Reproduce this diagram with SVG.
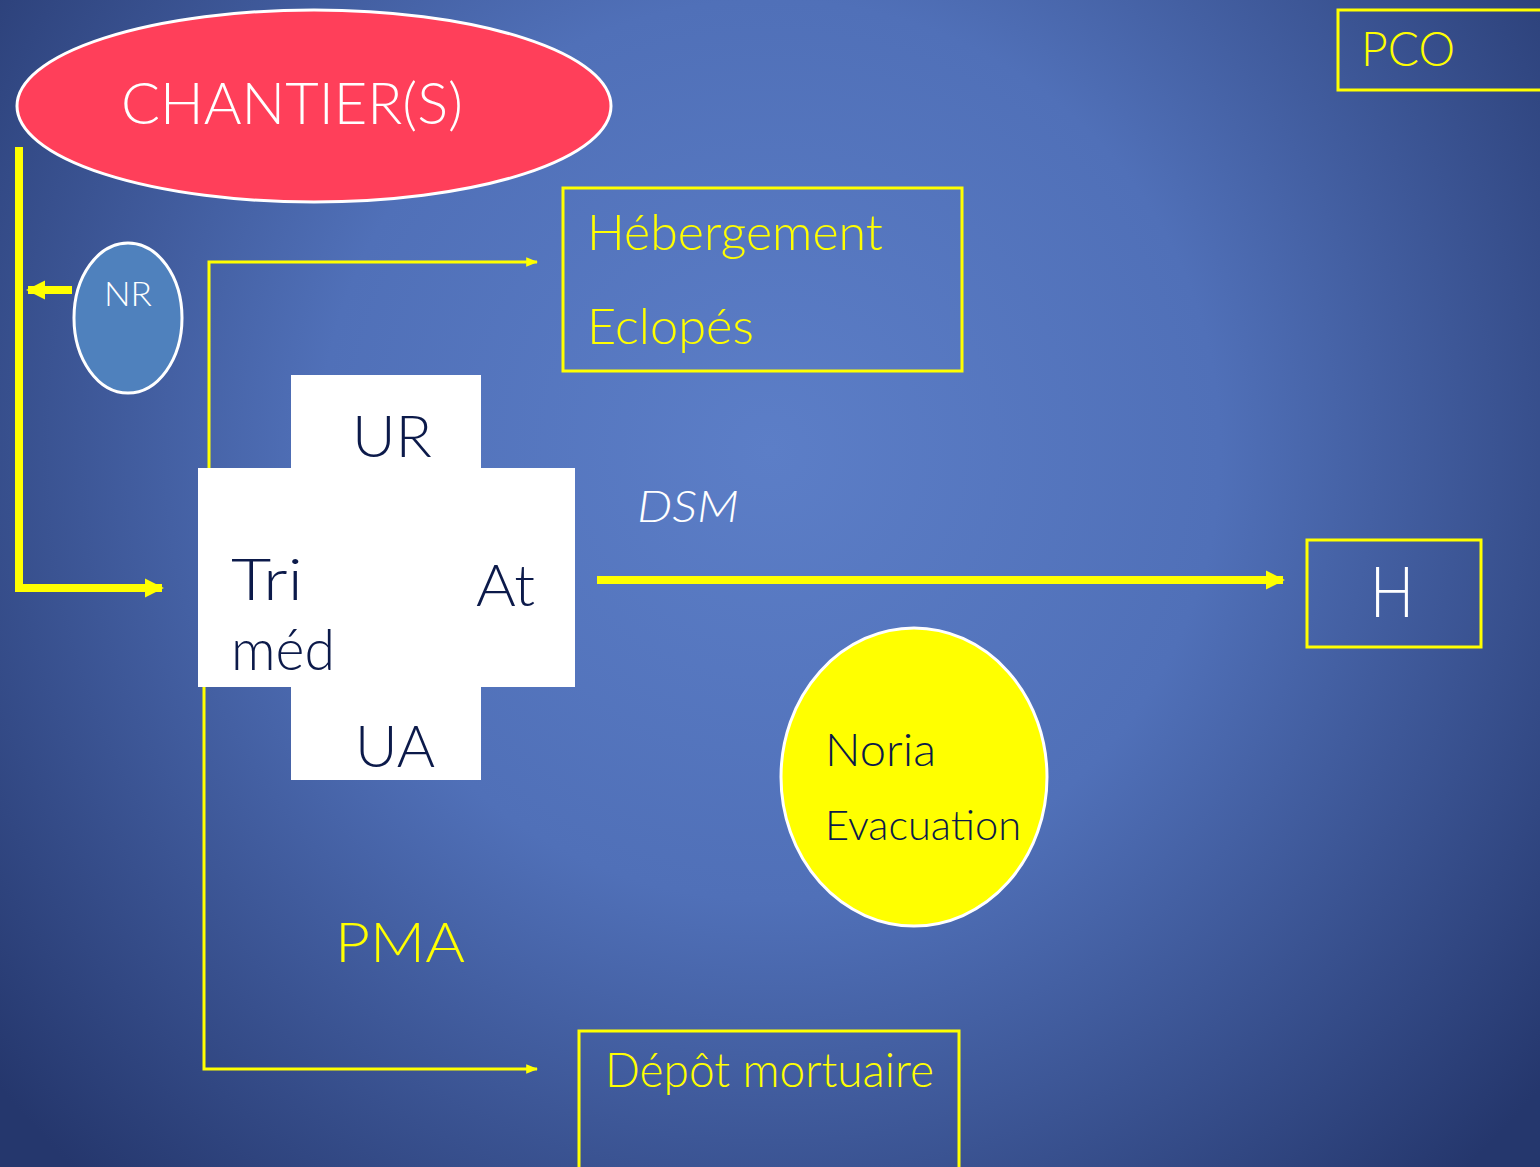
<svg xmlns="http://www.w3.org/2000/svg" width="1540" height="1167" viewBox="0 0 1540 1167">
<defs>
<radialGradient id="bg" gradientUnits="userSpaceOnUse" cx="770" cy="450" r="1000">
<stop offset="0" stop-color="#5c7ec7"/>
<stop offset="0.45" stop-color="#5070b8"/>
<stop offset="1" stop-color="#25376d"/>
</radialGradient>
<marker id="thick" viewBox="0 0 10 10" refX="9" refY="5" markerWidth="2.4" markerHeight="2.4" orient="auto" markerUnits="strokeWidth">
<path d="M0,0 L10,5 L0,10 z" fill="#ffff00"/>
</marker>
<marker id="thin" viewBox="0 0 10 10" refX="9" refY="5" markerWidth="4" markerHeight="4" orient="auto" markerUnits="strokeWidth">
<path d="M0,1 L10,5 L0,9 z" fill="#ffff00"/>
</marker>
</defs>
<style>
text{font-family:"Lato","Open Sans","Liberation Sans",sans-serif;font-weight:300}
.y{fill:#ffff00}
.w{fill:#ffffff}
.d{fill:#0c1a4a}
.box{fill:none;stroke:#ffff00;stroke-width:3}
.tk{fill:none;stroke:#ffff00;stroke-width:8}
.tn{fill:none;stroke:#ffff00;stroke-width:3}
</style>
<rect x="0" y="0" width="1540" height="1167" fill="url(#bg)"/>

<g id="connectors">
<path class="tk" d="M19,147 V592"/>
<path class="tk" d="M19,588 H162" marker-end="url(#thick)"/>
<path class="tk" d="M72,290 H28" marker-end="url(#thick)"/>
<path class="tn" d="M209,468 V262 H537" marker-end="url(#thin)"/>
<path class="tn" d="M204,687 V1069 H537" marker-end="url(#thin)"/>
<path class="tk" d="M597,580 H1283" marker-end="url(#thick)"/>
</g>

<g id="chantier">
<ellipse cx="314" cy="106" rx="297" ry="96" fill="#ff3f5a" stroke="#ffffff" stroke-width="3"/>
<text x="121" y="124" class="w" font-size="57" textLength="342" lengthAdjust="spacingAndGlyphs">CHANTIER(S)</text>
</g>

<g id="nr">
<ellipse cx="128" cy="318" rx="54" ry="75" fill="#4f81bd" stroke="#ffffff" stroke-width="3"/>
<text x="104" y="306" class="w" font-size="34" textLength="48" lengthAdjust="spacingAndGlyphs">NR</text>
</g>

<g id="pco">
<rect x="1338" y="10" width="210" height="80" class="box"/>
<text x="1361" y="66" class="y" font-size="48" textLength="94" lengthAdjust="spacingAndGlyphs">PCO</text>
</g>

<g id="hebergement">
<rect x="563" y="188" width="399" height="183" class="box"/>
<text x="587" y="250" class="y" font-size="50" textLength="296" lengthAdjust="spacingAndGlyphs">Hébergement</text>
<text x="587" y="344" class="y" font-size="50" textLength="167" lengthAdjust="spacingAndGlyphs">Eclopés</text>
</g>

<g id="pma-cross">
<path d="M291,375 H481 V468 H575 V687 H481 V780 H291 V687 H198 V468 H291 Z" fill="#ffffff"/>
<text x="352" y="457" class="d" font-size="58" textLength="80" lengthAdjust="spacingAndGlyphs">UR</text>
<text x="231" y="600" class="d" font-size="58" textLength="72" lengthAdjust="spacingAndGlyphs">Tri</text>
<text x="231" y="670" class="d" font-size="58" textLength="104" lengthAdjust="spacingAndGlyphs">méd</text>
<text x="476" y="606" class="d" font-size="58" textLength="59" lengthAdjust="spacingAndGlyphs">At</text>
<text x="355" y="767" class="d" font-size="58" textLength="80" lengthAdjust="spacingAndGlyphs">UA</text>
</g>

<g id="dsm">
<text x="637" y="522" class="w" font-size="44" font-style="italic" textLength="102" lengthAdjust="spacingAndGlyphs">DSM</text>
</g>

<g id="h">
<rect x="1307" y="540" width="174" height="107" class="box"/>
<text x="1370" y="617" class="w" font-size="70" textLength="44" lengthAdjust="spacingAndGlyphs">H</text>
</g>

<g id="noria">
<ellipse cx="914" cy="777" rx="133" ry="149" fill="#ffff00" stroke="#ffffff" stroke-width="3"/>
<text x="825" y="766" class="d" font-size="46" textLength="111" lengthAdjust="spacingAndGlyphs">Noria</text>
<text x="825" y="840" class="d" font-size="42" textLength="196" lengthAdjust="spacingAndGlyphs">Evacuation</text>
</g>

<g id="pma">
<text x="335" y="962" class="y" font-size="56" textLength="130" lengthAdjust="spacingAndGlyphs">PMA</text>
</g>

<g id="depot">
<rect x="579" y="1031" width="380" height="140" class="box"/>
<text x="605" y="1087" class="y" font-size="48" textLength="329" lengthAdjust="spacingAndGlyphs">Dépôt mortuaire</text>
</g>
</svg>
